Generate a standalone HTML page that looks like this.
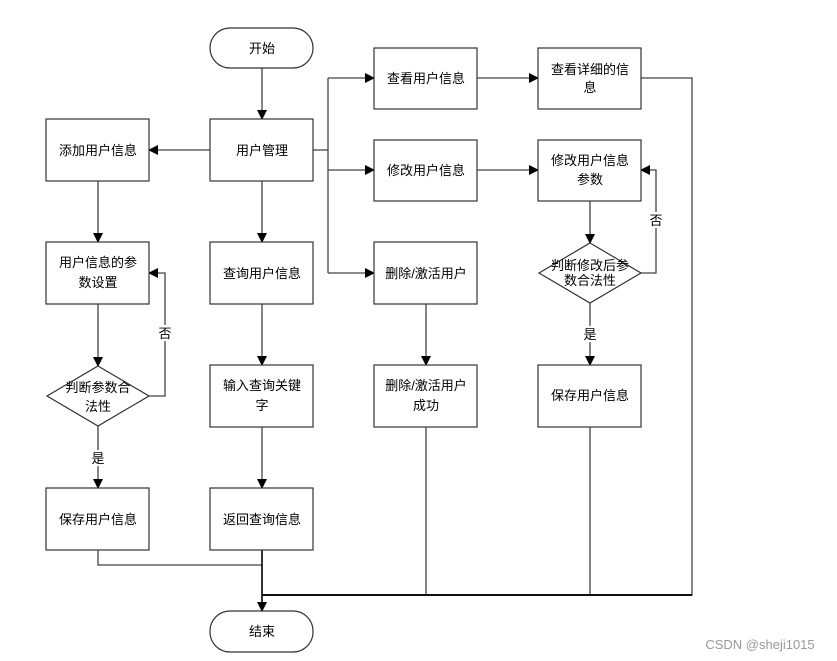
<!DOCTYPE html>
<html><head><meta charset="utf-8"><style>
html,body{margin:0;padding:0;background:#fff;}
svg{display:block;}
text{font-family:"Liberation Sans","Noto Sans CJK SC",sans-serif;font-size:13px;fill:#000;text-anchor:middle;}
.b{fill:#fff;stroke:#333;stroke-width:1.2;}
.l{fill:none;stroke:#444;stroke-width:1.3;}
</style></head><body>
<svg width="837" height="661" viewBox="0 0 837 661" xmlns="http://www.w3.org/2000/svg">
<defs><marker id="a" markerWidth="10" markerHeight="10" refX="9" refY="5" orient="auto" markerUnits="userSpaceOnUse"><path d="M0,0 L10,5 L0,10 z" fill="#000"/></marker></defs>
<!-- connectors -->
<path class="l" d="M262,68 V119" marker-end="url(#a)"/>
<path class="l" d="M210,150 H149" marker-end="url(#a)"/>
<path class="l" d="M262,181 V242" marker-end="url(#a)"/>
<path class="l" d="M98,181 V242" marker-end="url(#a)"/>
<path class="l" d="M313,150 H328"/>
<path class="l" d="M328,78 V273"/>
<path class="l" d="M328,78 H374" marker-end="url(#a)"/>
<path class="l" d="M328,170 H374" marker-end="url(#a)"/>
<path class="l" d="M328,273 H374" marker-end="url(#a)"/>
<path class="l" d="M477,78 H538" marker-end="url(#a)"/>
<path class="l" d="M477,170 H538" marker-end="url(#a)"/>
<path class="l" d="M641,78 H692 V595 H262"/>
<path class="l" d="M98,304 V366" marker-end="url(#a)"/>
<path class="l" d="M149,396 H165 V273 H149" marker-end="url(#a)"/>
<path class="l" d="M98,426 V488" marker-end="url(#a)"/>
<path class="l" d="M262,304 V365" marker-end="url(#a)"/>
<path class="l" d="M262,427 V488" marker-end="url(#a)"/>
<path class="l" d="M426,304 V365" marker-end="url(#a)"/>
<path class="l" d="M590,201 V243" marker-end="url(#a)"/>
<path class="l" d="M641,273 H656 V170 H641" marker-end="url(#a)"/>
<path class="l" d="M590,303 V365" marker-end="url(#a)"/>
<path class="l" d="M98,550 V565 H262"/>
<path class="l" d="M262,550 V611" marker-end="url(#a)" style="stroke:#000;stroke-width:1.6"/>
<path class="l" d="M426,427 V595"/>
<path class="l" d="M590,427 V595"/>
<path d="M262,595 H692" stroke="#111" stroke-width="2" fill="none"/>
<!-- labels on lines -->
<rect x="157" y="325" width="16" height="16" fill="#fff"/><text x="165" y="338" font-size="12">否</text>
<rect x="648" y="212" width="16" height="16" fill="#fff"/><text x="656" y="225" font-size="12">否</text>
<rect x="90" y="450" width="16" height="16" fill="#fff"/><text x="98" y="463" font-size="12">是</text>
<rect x="582" y="326" width="16" height="16" fill="#fff"/><text x="590" y="339" font-size="12">是</text>
<!-- shapes -->
<rect class="b" x="210" y="28" width="103" height="40" rx="20"/><text x="262" y="53">开始</text>
<rect class="b" x="210" y="119" width="103" height="62"/><text x="262" y="155">用户管理</text>
<rect class="b" x="46" y="119" width="103" height="62"/><text x="98" y="155">添加用户信息</text>
<rect class="b" x="46" y="242" width="103" height="62"/><text x="98" y="267">用户信息的参</text><text x="98" y="287">数设置</text>
<rect class="b" x="210" y="242" width="103" height="62"/><text x="262" y="278">查询用户信息</text>
<rect class="b" x="374" y="48" width="103" height="61"/><text x="426" y="83">查看用户信息</text>
<rect class="b" x="374" y="140" width="103" height="61"/><text x="426" y="175">修改用户信息</text>
<rect class="b" x="374" y="242" width="103" height="62"/><text x="426" y="278">删除/激活用户</text>
<rect class="b" x="538" y="48" width="103" height="61"/><text x="590" y="74">查看详细的信</text><text x="590" y="92">息</text>
<rect class="b" x="538" y="140" width="103" height="61"/><text x="590" y="165">修改用户信息</text><text x="590" y="184">参数</text>
<path class="b" d="M590,243 L641,273 L590,303 L539,273 z"/><text x="590" y="270" font-size="12">判断修改后参</text><text x="590" y="285" font-size="12">数合法性</text>
<path class="b" d="M98,366 L149,396 L98,426 L47,396 z"/><text x="98" y="392">判断参数合</text><text x="98" y="411">法性</text>
<rect class="b" x="210" y="365" width="103" height="62"/><text x="262" y="390">输入查询关键</text><text x="262" y="410">字</text>
<rect class="b" x="374" y="365" width="103" height="62"/><text x="426" y="390">删除/激活用户</text><text x="426" y="410">成功</text>
<rect class="b" x="538" y="365" width="103" height="62"/><text x="590" y="400">保存用户信息</text>
<rect class="b" x="46" y="488" width="103" height="62"/><text x="98" y="524">保存用户信息</text>
<rect class="b" x="210" y="488" width="103" height="62"/><text x="262" y="524">返回查询信息</text>
<rect class="b" x="210" y="611" width="103" height="41" rx="20"/><text x="262" y="636">结束</text>
<text x="760" y="649" font-size="13" fill="#999" style="fill:#999">CSDN @sheji1015</text>
</svg>
</body></html>
